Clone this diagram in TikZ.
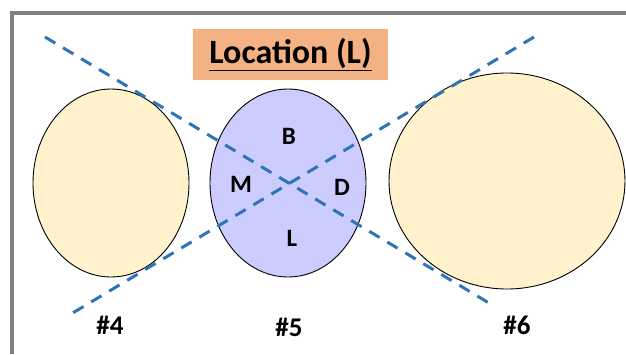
\documentclass[tikz,border=0pt]{standalone}
\usepackage{fontspec}
\setmainfont{Carlito}
\definecolor{cream}{HTML}{FFF2CC}
\definecolor{lilac}{HTML}{CCCCFF}
\definecolor{peach}{HTML}{F4B183}
\definecolor{dashblue}{HTML}{2E75B6}
\definecolor{framegray}{HTML}{7F7F7F}
\begin{document}
\begin{tikzpicture}[x=1pt,y=-1pt,
  cut/.style={draw=dashblue, line width=3pt, dash pattern=on 12pt off 9pt},
  lbl/.style={font=\fontsize{25}{28}\selectfont\bfseries, text=black},
  num/.style={font=\fontsize{27}{30}\selectfont\bfseries, text=black}]
\useasboundingbox (0,0) rectangle (626,354);
\fill[white] (0,0) rectangle (626,354);
\draw[framegray, line width=3.5pt] (12,354) -- (12,13) -- (630,13);
% title
\node[fill=peach, minimum width=195pt, minimum height=51pt, inner sep=0pt,
  font=\fontsize{34}{38}\selectfont\bfseries] (title) at (290.5,54.5)
  {\underline{Location (L)}};
% ellipses
\path[fill=cream, draw=black, line width=0.9pt] (111,183) ellipse [x radius=78, y radius=94];
\path[fill=lilac, draw=black, line width=0.9pt] (288,183) ellipse [x radius=78, y radius=94];
\path[fill=cream, draw=black, line width=0.9pt] (507,181) ellipse [x radius=118, y radius=108];
% dashed lines
\coordinate (a1) at (45,37);
\coordinate (a2) at (489,303);
\coordinate (b1) at (534,37);
\coordinate (b2) at (71,314);
\draw[cut] (a1) -- (a2);
\draw[cut] (b1) -- (b2);
% letters
\node[lbl] (B) at (289,136) {B};
\node[lbl] (M) at (241,184) {M};
\node[lbl] (D) at (342,187) {D};
\node[lbl] (L) at (292,238) {L};
% numbers
\node[num] (n4) at (110,325) {\#4};
\node[num] (n5) at (289,327) {\#5};
\node[num] (n6) at (517,325) {\#6};
\end{tikzpicture}
\end{document}
